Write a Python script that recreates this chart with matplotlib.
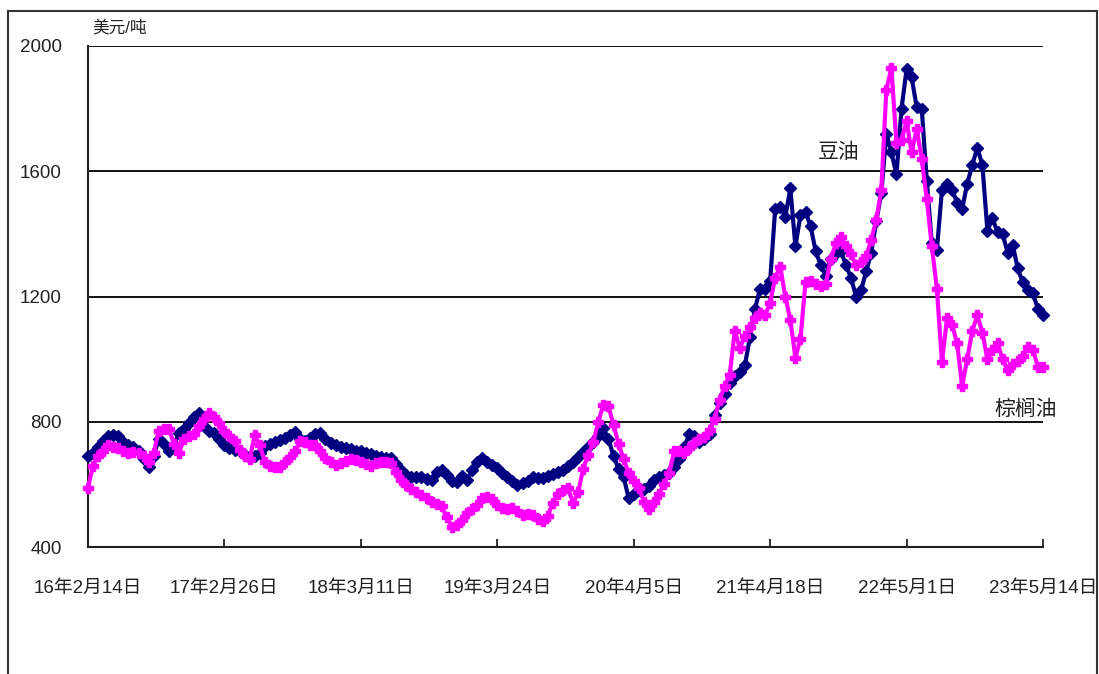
import numpy as np
import pandas as pd
import matplotlib
matplotlib.use('Agg')
import matplotlib.pyplot as plt
from matplotlib.patches import Rectangle

plt.rcParams['font.family'] = ['Liberation Sans', 'Noto Sans CJK SC', 'DejaVu Sans']

# 双周数据，16年2月14日起
dates = pd.date_range('2016-02-14', periods=190, freq='14D')

soy_oil = [
    690, 700, 720, 740, 755, 757, 755, 735, 725, 718,
    705, 680, 655, 690, 745, 730, 705, 725, 765, 778,
    795, 815, 828, 785, 770, 765, 745, 725, 715, 710,
    705, 695, 685, 690, 700, 722, 730, 735, 742, 748,
    758, 767, 745, 738, 748, 760, 765, 745, 732, 725,
    718, 716, 712, 708, 705, 700, 696, 692, 688, 685,
    683, 665, 645, 630, 622, 624, 623, 618, 614, 640,
    646, 630, 612, 607, 628, 615, 645, 671, 684, 672,
    662, 652, 635, 625, 612, 598, 603, 612, 623, 620,
    620, 628, 632, 638, 645, 658, 672, 686, 703, 718,
    735, 755, 780, 745, 690, 650, 625, 555, 570, 582,
    585, 595, 615, 625, 630, 636, 655, 680, 720, 760,
    755, 735, 745, 762, 820, 860, 890, 925, 945, 960,
    980, 1070, 1160, 1225, 1225, 1250, 1480, 1485, 1455, 1545,
    1360, 1460, 1470, 1425, 1345, 1300, 1265, 1320, 1340, 1345,
    1300, 1260, 1200, 1220, 1280, 1340, 1440, 1530, 1720, 1660,
    1590, 1800, 1925, 1900, 1805, 1800, 1570, 1370, 1350, 1540,
    1560, 1540, 1500, 1480, 1560, 1620, 1675, 1620, 1410, 1450,
    1405, 1400, 1340, 1365, 1290, 1245, 1222, 1210, 1160, 1140,
]

palm_oil = [
    590, 660, 690, 705, 725, 720, 715, 705, 700, 703,
    700, 692, 672, 700, 772, 778, 778, 730, 700, 745,
    755, 760, 785, 810, 828, 815, 795, 770, 755, 738,
    710, 690, 682, 757, 725, 672, 660, 657, 657, 670,
    688, 705, 740, 735, 725, 725, 705, 685, 670, 662,
    668, 675, 680, 678, 670, 665, 660, 668, 672, 670,
    668, 640, 615, 598, 585, 575, 565, 555, 544, 538,
    530, 495, 465, 470, 485, 510, 522, 535, 555, 560,
    552, 535, 525, 522, 524, 515, 503, 505, 502, 490,
    482, 500, 542, 570, 582, 588, 540, 575, 650, 695,
    735, 800, 855, 850, 790, 730, 680, 636, 610, 590,
    545, 520, 545, 570, 600, 635, 705, 705, 700, 715,
    732, 745, 752, 775, 810, 870, 915, 950, 1090, 1035,
    1075, 1103, 1130, 1147, 1140, 1180, 1260, 1295, 1200, 1125,
    1005, 1065, 1245, 1250, 1240, 1232, 1240, 1320, 1370, 1390,
    1360, 1335, 1300, 1310, 1330, 1380, 1445, 1540, 1860, 1930,
    1690, 1700, 1760, 1660, 1735, 1640, 1510, 1360, 1225, 990,
    1130, 1110, 1050, 915, 1000, 1090, 1140, 1085, 1000, 1030,
    1050, 1000, 965, 985, 995, 1010, 1040, 1030, 975, 975,
]

tick_dates = pd.date_range('2016-02-14', periods=8, freq='378D')
tick_labels = ['16年2月14日', '17年2月26日', '18年3月11日', '19年3月24日',
               '20年4月5日', '21年4月18日', '22年5月1日', '23年5月14日']

fig = plt.figure(figsize=(10.99, 6.74), dpi=100)
fig.patches.append(Rectangle((8 / 1099, -0.05), 1089 / 1099, 1.05 - 11 / 674,
                             transform=fig.transFigure, fill=False,
                             edgecolor='#333333', linewidth=1.5))
ax = fig.add_axes([88 / 1099, 1 - 547 / 674, 955 / 1099, 501 / 674])

ax.plot(dates, soy_oil, color='#000080', linewidth=3, marker='D',
        markersize=6, clip_on=False, zorder=3)
ax.plot(dates, palm_oil, color='#FF00FF', linewidth=3, marker='P',
        markersize=7, clip_on=False, zorder=4)

ax.set_xlim(dates[0], dates[-1])
ax.set_ylim(400, 2000)
ax.set_yticks([400, 800, 1200, 1600, 2000])
ax.set_yticklabels(['400', '800', '1200', '1600', '2000'])
for v in [800, 1200, 1600, 2000]:
    ax.axhline(v, color='black', linewidth=1.3, zorder=1)

ax.set_xticks(tick_dates)
ax.set_xticklabels(tick_labels)
ax.tick_params(axis='x', direction='in', length=6, width=1.3, pad=24,
               labelsize=13.5, colors='#222222')
ax.tick_params(axis='y', length=0, pad=19, labelsize=13.5, colors='#222222')

for s in ['top', 'right']:
    ax.spines[s].set_visible(False)
for s in ['left', 'bottom']:
    ax.spines[s].set_linewidth(1.5)
    ax.spines[s].set_color('#222222')

fig.text(92 / 1099, 1 - 28 / 674, '美元/吨', fontsize=12, ha='left', va='center',
         color='#222222')
fig.text(839 / 1099, 1 - 152 / 674, '豆油', fontsize=15, ha='center', va='center',
         color='#222222')
fig.text(1026 / 1099, 1 - 409 / 674, '棕榈油', fontsize=15, ha='center', va='center',
         color='#222222')

fig.savefig('out.png', dpi=100)
